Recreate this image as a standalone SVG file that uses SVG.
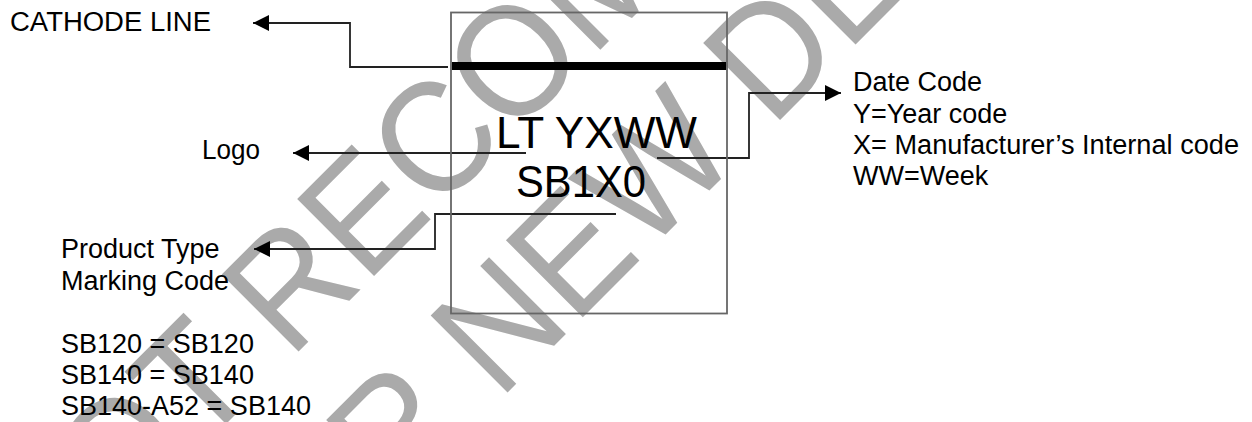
<svg xmlns="http://www.w3.org/2000/svg" width="1252" height="422" viewBox="0 0 1252 422">
<style>
text{font-family:"Liberation Sans",Arial,sans-serif;fill:#000}
.l{font-size:27px}
.m{font-size:44px}
.w{font-size:158px;fill:#aaa}
.c{fill:none;stroke:#222;stroke-width:1.8}
</style>
<defs><marker id="a" markerUnits="userSpaceOnUse" markerWidth="16" markerHeight="16" refX="16" refY="8" orient="auto"><path d="M0 0L16 8L0 16Z" fill="#000"/></marker></defs>
<rect width="1252" height="422" fill="#fff"/>
<g id="watermark">
<text class="w" transform="translate(42.400 607.600) rotate(-45) scale(.935 1)">NOT RECOMMENDED</text>
<text class="w" transform="translate(249.400 650.600) rotate(-45) scale(.935 1)">FOR NEW DESIGN</text>
</g>
<g id="connectors">
<path class="c" marker-end="url(#a)" d="M448 67H350V23H253"/>
<path class="c" marker-end="url(#a)" d="M526 153H293"/>
<path class="c" marker-end="url(#a)" d="M657 158H749V93H841"/>
<path class="c" marker-end="url(#a)" d="M616 214H435V249H254"/>
</g>
<g id="package">
<rect x="451" y="12.500" width="276" height="301" fill="none" stroke="#666" stroke-width="1.800"/>
<rect x="452" y="62" width="274" height="8" fill="#000"/>
<text class="m" x="496" y="148" textLength="201" lengthAdjust="spacingAndGlyphs">LT YXWW</text>
<text class="m" x="516" y="197" textLength="130" lengthAdjust="spacingAndGlyphs">SB1X0</text>
</g>
<g id="cathode-label"><text class="l" x="10" y="31" textLength="201" lengthAdjust="spacingAndGlyphs">CATHODE LINE</text></g>
<g id="logo-label"><text class="l" x="202" y="159" textLength="58" lengthAdjust="spacingAndGlyphs">Logo</text></g>
<g id="date-code-label">
<text class="l" x="853" y="91">Date Code</text>
<text class="l" x="853" y="123">Y=Year code</text>
<text class="l" x="853" y="154" textLength="386" lengthAdjust="spacingAndGlyphs">X= Manufacturer’s Internal code</text>
<text class="l" x="853" y="185">WW=Week</text>
</g>
<g id="product-label">
<text class="l" x="61" y="258">Product Type</text>
<text class="l" x="61" y="290">Marking Code</text>
<text class="l" x="61" y="353">SB120 = SB120</text>
<text class="l" x="61" y="384">SB140 = SB140</text>
<text class="l" x="61" y="415">SB140-A52 = SB140</text>
</g>
</svg>
